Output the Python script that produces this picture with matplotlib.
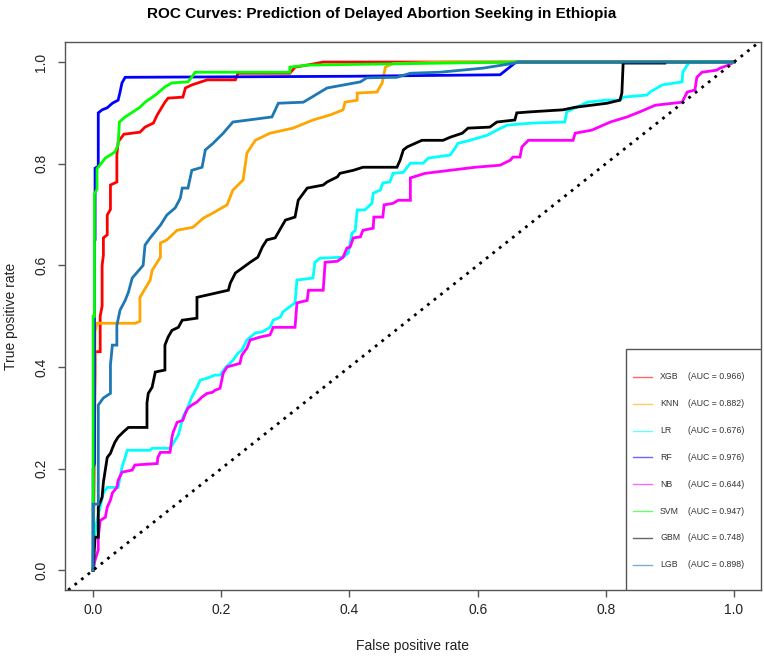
import numpy as np
import matplotlib.pyplot as plt
from matplotlib.patches import Rectangle

plt.rcParams["font.family"] = ["Liberation Sans", "DejaVu Sans"]

# (FPR, TPR) points, one list per model
xgb = [(0, 0), (0.003, 0.39), (0.003, 0.43), (0.011, 0.43), (0.011, 0.50), (0.014, 0.52), (0.014, 0.60),
       (0.016, 0.62), (0.016, 0.654), (0.022, 0.66), (0.022, 0.699), (0.027, 0.71), (0.027, 0.758),
       (0.037, 0.764), (0.037, 0.817), (0.039, 0.843), (0.048, 0.858), (0.073, 0.862), (0.081, 0.872),
       (0.094, 0.88), (0.1, 0.896), (0.112, 0.921), (0.117, 0.929), (0.14, 0.931), (0.144, 0.949),
       (0.154, 0.955), (0.178, 0.965), (0.222, 0.965), (0.226, 0.978), (0.307, 0.978), (0.315, 0.99),
       (0.334, 0.994), (0.359, 1.0), (1.0, 1.0)]

knn = [(0, 0), (0.003, 0.47), (0.006, 0.486), (0.066, 0.486), (0.073, 0.49), (0.073, 0.537), (0.089, 0.571),
       (0.092, 0.59), (0.105, 0.616), (0.105, 0.644), (0.115, 0.65), (0.131, 0.669), (0.156, 0.675),
       (0.172, 0.693), (0.187, 0.703), (0.209, 0.719), (0.218, 0.748), (0.234, 0.768), (0.24, 0.821),
       (0.253, 0.846), (0.276, 0.86), (0.312, 0.87), (0.343, 0.886), (0.37, 0.896), (0.39, 0.906),
       (0.393, 0.921), (0.412, 0.925), (0.412, 0.939), (0.443, 0.941), (0.451, 0.959), (0.456, 0.99),
       (0.468, 0.997), (0.55, 1.0), (1.0, 1.0)]

lr = [(0, 0), (0.0, 0.033), (0.003, 0.073), (0.006, 0.098), (0.016, 0.152), (0.022, 0.163), (0.039, 0.163),
      (0.045, 0.203), (0.05, 0.222), (0.053, 0.236), (0.089, 0.236), (0.092, 0.24), (0.12, 0.24),
      (0.125, 0.25), (0.133, 0.266), (0.14, 0.301), (0.147, 0.319), (0.154, 0.341), (0.162, 0.36),
      (0.167, 0.374), (0.178, 0.378), (0.19, 0.384), (0.198, 0.384), (0.206, 0.398), (0.218, 0.413),
      (0.226, 0.427), (0.232, 0.433), (0.24, 0.453), (0.253, 0.467), (0.264, 0.469), (0.276, 0.478),
      (0.281, 0.492), (0.292, 0.498), (0.296, 0.508), (0.304, 0.516), (0.315, 0.526), (0.318, 0.571),
      (0.343, 0.575), (0.346, 0.606), (0.354, 0.614), (0.39, 0.616), (0.398, 0.624), (0.401, 0.644),
      (0.404, 0.663), (0.409, 0.669), (0.412, 0.709), (0.424, 0.709), (0.435, 0.722), (0.437, 0.742),
      (0.448, 0.748), (0.452, 0.762), (0.463, 0.764), (0.468, 0.781), (0.484, 0.783), (0.49, 0.793),
      (0.495, 0.801), (0.515, 0.801), (0.523, 0.811), (0.557, 0.817), (0.565, 0.831), (0.569, 0.84),
      (0.588, 0.846), (0.615, 0.856), (0.63, 0.866), (0.646, 0.876), (0.686, 0.88), (0.736, 0.882),
      (0.739, 0.902), (0.771, 0.921), (0.799, 0.925), (0.822, 0.925), (0.827, 0.931), (0.864, 0.935),
      (0.869, 0.941), (0.888, 0.955), (0.919, 0.961), (0.92, 0.98), (0.927, 0.994), (0.931, 1.0), (1.0, 1.0)]

rf = [(0, 0), (0.0, 0.13), (0.0, 0.2), (0.002, 0.21), (0.002, 0.646), (0.003, 0.65), (0.003, 0.791),
      (0.008, 0.795), (0.008, 0.9), (0.014, 0.906), (0.022, 0.91), (0.03, 0.919), (0.039, 0.925),
      (0.042, 0.941), (0.045, 0.959), (0.05, 0.97), (0.40, 0.972), (0.635, 0.975), (0.658, 0.998),
      (0.66, 1.0), (1.0, 1.0)]

nb = [(0, 0), (0.003, 0.02), (0.008, 0.04), (0.008, 0.065), (0.011, 0.098), (0.019, 0.104), (0.022, 0.124),
      (0.027, 0.138), (0.03, 0.152), (0.037, 0.163), (0.039, 0.177), (0.045, 0.193), (0.061, 0.197),
      (0.065, 0.207), (0.1, 0.21), (0.101, 0.222), (0.105, 0.232), (0.12, 0.232), (0.123, 0.262),
      (0.125, 0.272), (0.131, 0.291), (0.14, 0.295), (0.144, 0.309), (0.148, 0.319), (0.154, 0.325),
      (0.162, 0.331), (0.17, 0.341), (0.178, 0.348), (0.186, 0.35), (0.19, 0.354), (0.198, 0.358),
      (0.203, 0.388), (0.209, 0.4), (0.229, 0.407), (0.232, 0.423), (0.24, 0.437), (0.245, 0.453),
      (0.261, 0.459), (0.276, 0.463), (0.281, 0.478), (0.315, 0.478), (0.318, 0.526), (0.334, 0.531),
      (0.336, 0.551), (0.359, 0.551), (0.362, 0.606), (0.381, 0.608), (0.39, 0.616), (0.396, 0.634),
      (0.401, 0.636), (0.406, 0.654), (0.417, 0.656), (0.421, 0.669), (0.437, 0.673), (0.438, 0.695),
      (0.452, 0.695), (0.454, 0.719), (0.468, 0.722), (0.476, 0.728), (0.495, 0.728), (0.495, 0.772),
      (0.518, 0.781), (0.557, 0.787), (0.596, 0.793), (0.635, 0.797), (0.651, 0.807), (0.655, 0.813),
      (0.666, 0.813), (0.669, 0.833), (0.679, 0.846), (0.749, 0.846), (0.752, 0.86), (0.778, 0.866),
      (0.807, 0.882), (0.833, 0.892), (0.853, 0.902), (0.877, 0.915), (0.919, 0.921), (0.927, 0.941),
      (0.939, 0.945), (0.942, 0.97), (0.95, 0.98), (0.973, 0.984), (0.978, 0.988), (0.991, 0.994), (1.0, 1.0)]

svm = [(0, 0), (0.0, 0.21), (0.0, 0.5), (0.002, 0.5), (0.002, 0.74), (0.006, 0.75), (0.006, 0.79),
       (0.019, 0.811), (0.034, 0.823), (0.039, 0.837), (0.041, 0.882), (0.05, 0.892), (0.073, 0.911),
       (0.081, 0.921), (0.097, 0.935), (0.112, 0.951), (0.123, 0.959), (0.148, 0.961), (0.156, 0.974),
       (0.159, 0.98), (0.307, 0.98), (0.307, 0.99), (0.334, 0.994), (0.655, 1.0), (1.0, 1.0)]

gbm = [(0, 0), (0.003, 0.065), (0.008, 0.065), (0.008, 0.124), (0.014, 0.144), (0.016, 0.173), (0.022, 0.222),
       (0.027, 0.23), (0.03, 0.24), (0.034, 0.252), (0.039, 0.262), (0.047, 0.272), (0.055, 0.281),
       (0.084, 0.281), (0.084, 0.329), (0.086, 0.348), (0.092, 0.36), (0.097, 0.39), (0.112, 0.394),
       (0.112, 0.443), (0.117, 0.459), (0.123, 0.472), (0.133, 0.478), (0.139, 0.492), (0.162, 0.496),
       (0.162, 0.537), (0.211, 0.551), (0.214, 0.565), (0.222, 0.585), (0.232, 0.594), (0.245, 0.606),
       (0.257, 0.616), (0.264, 0.636), (0.271, 0.65), (0.284, 0.654), (0.3, 0.689), (0.315, 0.695),
       (0.32, 0.728), (0.334, 0.752), (0.359, 0.758), (0.365, 0.764), (0.381, 0.774), (0.385, 0.781),
       (0.406, 0.787), (0.421, 0.793), (0.474, 0.793), (0.479, 0.807), (0.484, 0.827), (0.49, 0.833),
       (0.513, 0.846), (0.546, 0.846), (0.557, 0.852), (0.576, 0.86), (0.585, 0.87), (0.619, 0.872),
       (0.63, 0.882), (0.658, 0.886), (0.661, 0.9), (0.682, 0.902), (0.733, 0.906), (0.752, 0.911),
       (0.802, 0.919), (0.822, 0.925), (0.825, 0.939), (0.827, 0.998), (0.892, 0.998)]

lgb = [(0, 0), (0.0, 0.13), (0.008, 0.13), (0.008, 0.325), (0.016, 0.339), (0.027, 0.348), (0.027, 0.404),
       (0.03, 0.443), (0.037, 0.443), (0.037, 0.482), (0.042, 0.512), (0.05, 0.531), (0.055, 0.547),
       (0.061, 0.575), (0.078, 0.6), (0.081, 0.64), (0.089, 0.654), (0.105, 0.679), (0.115, 0.699),
       (0.128, 0.713), (0.136, 0.732), (0.139, 0.752), (0.148, 0.752), (0.154, 0.787), (0.17, 0.793),
       (0.175, 0.827), (0.187, 0.84), (0.203, 0.86), (0.218, 0.882), (0.279, 0.892), (0.289, 0.919),
       (0.328, 0.921), (0.365, 0.949), (0.417, 0.961), (0.427, 0.969), (0.474, 0.97), (0.495, 0.978),
       (0.541, 0.98), (0.608, 0.988), (0.658, 0.998), (0.665, 1.0), (1.0, 1.0)]

model_names = ["XGB", "KNN", "LR", "RF", "NB", "SVM", "GBM", "LGB"]
auc_values = [0.966, 0.882, 0.676, 0.976, 0.644, 0.947, 0.748, 0.898]
curves = [xgb, knn, lr, rf, nb, svm, gbm, lgb]
colors = ["#ff0000", "#ffa500", "#00ffff", "#0000ff", "#ff00ff", "#00ff00", "#000000", "#1f77b4"]

fig = plt.figure(figsize=(7.64, 6.6), dpi=100)
ax = fig.add_axes([0.085, 0.106, 0.911, 0.830])

for pts, col in zip(curves, colors):
    fpr, tpr = np.array(pts).T
    ax.plot(fpr, tpr, color=col, lw=2.0, solid_joinstyle="miter")

ax.axline((0, 0), slope=1, color="black", lw=2, linestyle=(0, (1, 2)))

ax.set_xlim(-0.044, 1.042)
ax.set_ylim(-0.039, 1.039)
ticks = [0.0, 0.2, 0.4, 0.6, 0.8, 1.0]
ax.set_xticks(ticks)
ax.set_yticks(ticks)
ax.set_xticklabels([f"{t:.1f}" for t in ticks])
ax.set_yticklabels([f"{t:.1f}" for t in ticks], rotation=90, va="center")
ax.tick_params(axis="both", length=5, width=1, color="#555555", labelsize=10, labelcolor="#222222")
ax.tick_params(axis="x", pad=4)
ax.tick_params(axis="y", pad=7)
for sp in ax.spines.values():
    sp.set_color("#555555")
    sp.set_linewidth(1)

ax.set_xlabel("False positive rate", fontsize=10, labelpad=16, color="#222222")
ax.set_ylabel("True positive rate", fontsize=10, labelpad=12, color="#222222")
fig.text(0.5, 1 - 14 / 660, "ROC Curves: Prediction of Delayed Abortion Seeking in Ethiopia",
         ha="center", va="center", fontsize=11, fontweight="bold",
         family=["Liberation Sans Narrow", "Liberation Sans", "DejaVu Sans"])

# legend box drawn by hand, bottom right
ax.add_patch(Rectangle((0.806, 0.0), 0.194, 0.44, transform=ax.transAxes,
                       facecolor="white", edgecolor="#555555", lw=1, zorder=5))
for i, (name, auc, col) in enumerate(zip(model_names, auc_values, colors)):
    y = 0.389 - i * 0.049
    ax.plot([0.816, 0.843], [y, y], transform=ax.transAxes, color=col, lw=1, alpha=0.6, zorder=6)
    ax.text(0.855, y, name, transform=ax.transAxes, fontsize=6.3, va="center", color="#333333", zorder=6)
    ax.text(0.895, y, f"(AUC = {auc:.3f})", transform=ax.transAxes, fontsize=6.3, va="center",
            color="#333333", zorder=6)

fig.savefig("out.png", dpi=100)
